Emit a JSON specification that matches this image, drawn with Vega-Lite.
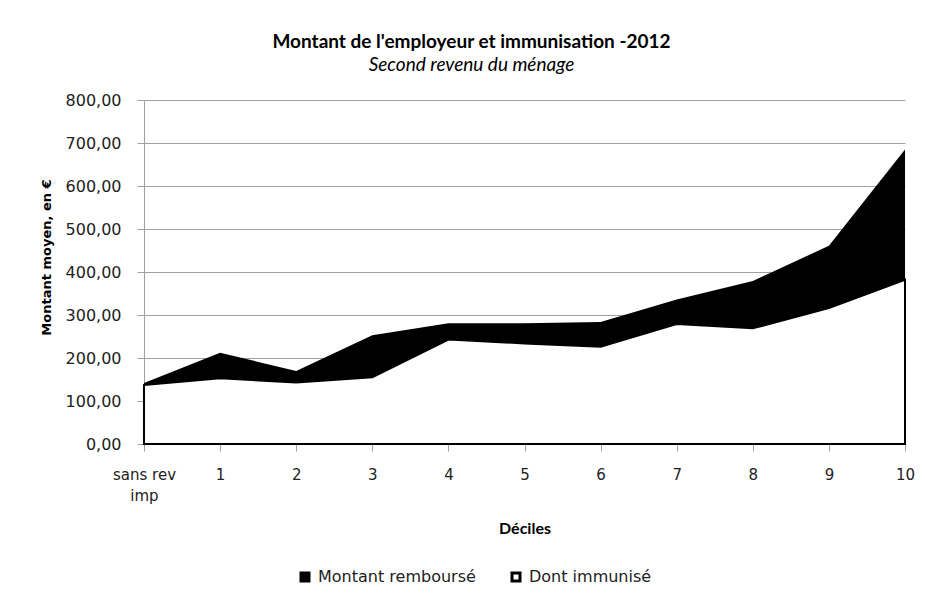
{
  "$schema": "https://vega.github.io/schema/vega-lite/v6.json",
  "autosize": {"type": "none"},
  "width": 761,
  "height": 344,
  "padding": {"left": 144, "top": 100, "right": 20, "bottom": 166},
  "background": "white",
  "title": {
    "text": "Montant de l'employeur et immunisation -2012",
    "subtitle": "Second revenu du ménage",
    "anchor": "middle",
    "frame": "group",
    "dx": -53,
    "offset": 17,
    "font": "Lato",
    "fontSize": 19,
    "fontWeight": "bold",
    "color": "#000000",
    "subtitleFont": "Lato",
    "subtitleFontSize": 19,
    "subtitleFontStyle": "italic",
    "subtitleColor": "#000000",
    "subtitlePadding": 4
  },
  "data": {
    "values": [
      {"decile": "sans rev imp", "serie": "Montant remboursé", "valeur": 142},
      {"decile": "1", "serie": "Montant remboursé", "valeur": 212},
      {"decile": "2", "serie": "Montant remboursé", "valeur": 170},
      {"decile": "3", "serie": "Montant remboursé", "valeur": 253},
      {"decile": "4", "serie": "Montant remboursé", "valeur": 281},
      {"decile": "5", "serie": "Montant remboursé", "valeur": 281},
      {"decile": "6", "serie": "Montant remboursé", "valeur": 284},
      {"decile": "7", "serie": "Montant remboursé", "valeur": 336},
      {"decile": "8", "serie": "Montant remboursé", "valeur": 379},
      {"decile": "9", "serie": "Montant remboursé", "valeur": 461},
      {"decile": "10", "serie": "Montant remboursé", "valeur": 685},
      {"decile": "sans rev imp", "serie": "Dont immunisé", "valeur": 137},
      {"decile": "1", "serie": "Dont immunisé", "valeur": 153},
      {"decile": "2", "serie": "Dont immunisé", "valeur": 143},
      {"decile": "3", "serie": "Dont immunisé", "valeur": 155},
      {"decile": "4", "serie": "Dont immunisé", "valeur": 243},
      {"decile": "5", "serie": "Dont immunisé", "valeur": 234},
      {"decile": "6", "serie": "Dont immunisé", "valeur": 226},
      {"decile": "7", "serie": "Dont immunisé", "valeur": 279},
      {"decile": "8", "serie": "Dont immunisé", "valeur": 269},
      {"decile": "9", "serie": "Dont immunisé", "valeur": 316},
      {"decile": "10", "serie": "Dont immunisé", "valeur": 382}
    ]
  },
  "encoding": {
    "x": {
      "field": "decile",
      "type": "ordinal",
      "sort": ["sans rev imp", "1", "2", "3", "4", "5", "6", "7", "8", "9", "10"],
      "scale": {"type": "point", "padding": 0},
      "axis": {
        "title": "Déciles",
        "titleFont": "Lato",
        "titleFontSize": 16,
        "titleFontWeight": "bold",
        "titleColor": "#000000",
        "titleY": 84,
        "titleBaseline": "middle",
        "labelAngle": 0,
        "labelFont": "DejaVu Sans",
        "labelFontSize": 15,
        "labelColor": "#222222",
        "labelPadding": 16,
        "labelLineHeight": 21,
        "labelExpr": "datum.label == 'sans rev imp' ? ['sans rev', 'imp'] : datum.label",
        "domainColor": "#a0a0a0",
        "tickColor": "#a0a0a0",
        "tickSize": 7,
        "grid": false
      }
    },
    "y": {
      "field": "valeur",
      "type": "quantitative",
      "stack": null,
      "scale": {"domain": [0, 800], "nice": false},
      "axis": {
        "title": "Montant moyen, en €",
        "titleFont": "DejaVu Sans",
        "titleFontSize": 13,
        "titleFontWeight": "bold",
        "titleColor": "#000000",
        "titleY": 157,
        "titlePadding": 12,
        "values": [0, 100, 200, 300, 400, 500, 600, 700, 800],
        "labelExpr": "replace(format(datum.value, '.2f'), '.', ',')",
        "labelFont": "DejaVu Sans",
        "labelFontSize": 16,
        "labelColor": "#222222",
        "labelPadding": 16,
        "domainColor": "#a0a0a0",
        "tickColor": "#a0a0a0",
        "tickSize": 7,
        "gridColor": "#a0a0a0",
        "gridWidth": 1
      }
    },
    "fill": {
      "field": "serie",
      "type": "nominal",
      "scale": {"domain": ["Montant remboursé", "Dont immunisé"], "range": ["#000000", "#ffffff"]},
      "legend": {
        "title": null,
        "orient": "none",
        "legendX": 153,
        "legendY": 469,
        "direction": "horizontal",
        "symbolType": "square",
        "symbolSize": 64,
        "symbolStrokeColor": "#000000",
        "symbolStrokeWidth": 3,
        "symbolOpacity": 1,
        "labelFont": "DejaVu Sans",
        "labelFontSize": 16,
        "labelColor": "#222222",
        "labelOffset": 5,
        "columnPadding": 30
      }
    }
  },
  "layer": [
    {
      "transform": [{"filter": "datum.serie == 'Montant remboursé'"}],
      "mark": {"type": "area", "opacity": 1, "interpolate": "linear"}
    },
    {
      "transform": [{"filter": "datum.serie == 'Dont immunisé'"}],
      "mark": {"type": "area", "opacity": 1, "interpolate": "linear", "stroke": "#000000", "strokeWidth": 2}
    }
  ],
  "config": {
    "view": {"stroke": null}
  }
}
